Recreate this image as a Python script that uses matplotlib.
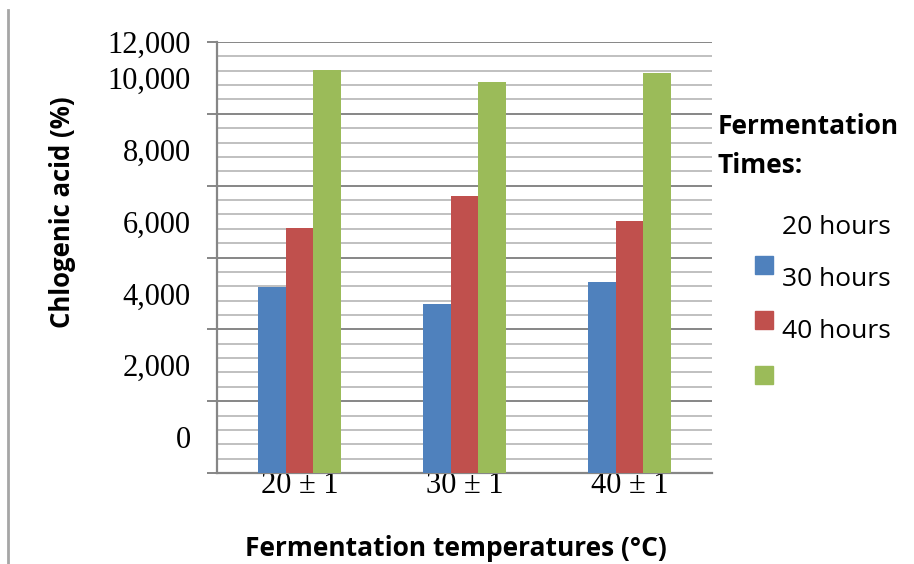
import matplotlib
matplotlib.use('Agg')
import matplotlib.pyplot as plt
from matplotlib.patches import Rectangle
from matplotlib.lines import Line2D
from matplotlib.ticker import MultipleLocator
import numpy as np

# data
temperatures = ['20 \u00b1 1', '30 \u00b1 1', '40 \u00b1 1']
series_names = ['20 hours', '30 hours', '40 hours']
values_20h = [5180, 4700, 5320]
values_30h = [6820, 7710, 7020]
values_40h = [11220, 10890, 11140]
colors = ['#4F81BD', '#C0504D', '#9BBB59']

# the y labels in the source sit half a step below their gridlines
label_pos = [1000, 3000, 5000, 7000, 9000, 11000, 12000]
label_txt = ['0', '2,000', '4,000', '6,000', '8,000', '10,000', '12,000']

W, H = 914, 564


def fx(x):
    return x / W


def fy(y):
    return 1 - y / H


fig = plt.figure(figsize=(9.14, 5.64), dpi=100)
ax = fig.add_axes([fx(217), fy(473), fx(712) - fx(217), fy(42) - fy(473)])

x = np.arange(len(temperatures))
bar_w = 0.168
for i, vals in enumerate([values_20h, values_30h, values_40h]):
    ax.bar(x + (i - 1) * bar_w, vals, width=bar_w, color=colors[i], zorder=3)

ax.set_xlim(-0.5, 2.5)
ax.set_ylim(0, 12000)
ax.yaxis.set_major_locator(MultipleLocator(2000))
ax.yaxis.set_minor_locator(MultipleLocator(400))
ax.grid(True, which='major', axis='y', color='#868686', lw=1.4, zorder=1)
ax.grid(True, which='minor', axis='y', color='#c0c0c0', lw=1.4, zorder=1)
ax.tick_params(axis='y', which='major', length=7.5, width=1.4, color='#868686',
               labelleft=False, direction='out')
ax.tick_params(axis='y', which='minor', length=0)

ax.set_xticks(x, temperatures, family='Liberation Serif', fontsize=22)
ax.tick_params(axis='x', length=0, pad=-1.5)

for s in ['top', 'right']:
    ax.spines[s].set_visible(False)
for s in ['left', 'bottom']:
    ax.spines[s].set_color('#868686')
    ax.spines[s].set_linewidth(1.6)

sec = ax.secondary_yaxis('left')
sec.set_yticks(label_pos, label_txt, family='Liberation Serif', fontsize=22)
sec.tick_params(length=0, pad=19)
sec.spines['left'].set_visible(False)

sans = 'Open Sans'
fig.text(fx(62), fy(212), 'Chlogenic acid (%)', rotation=90, ha='center', va='center',
         family=sans, fontweight='bold', fontsize=18.5)
fig.text(fx(456), fy(548), 'Fermentation temperatures (\u00b0C)', ha='center', va='center',
         family=sans, fontweight='bold', fontsize=19)

# legend, drawn by hand to keep the offset swatches of the source
fig.text(fx(718), fy(127), 'Fermentation', ha='left', va='center',
         family=sans, fontweight='bold', fontsize=19)
fig.text(fx(718), fy(165), 'Times:', ha='left', va='center',
         family=sans, fontweight='bold', fontsize=19)
for i, name in enumerate(series_names):
    fig.text(fx(782), fy(228 + 52 * i), name, ha='left', va='center',
             family=sans, fontsize=19)
for i, c in enumerate(colors):
    top = 256 + 55 * i
    fig.add_artist(Rectangle((fx(755), fy(top + 18)), fx(18), 18 / H,
                             transform=fig.transFigure, color=c))

fig.add_artist(Line2D([fx(8), fx(8)], [0, fy(10)], color='#a6a6a6', lw=2,
                      transform=fig.transFigure))

fig.savefig('out.png', dpi=100)
